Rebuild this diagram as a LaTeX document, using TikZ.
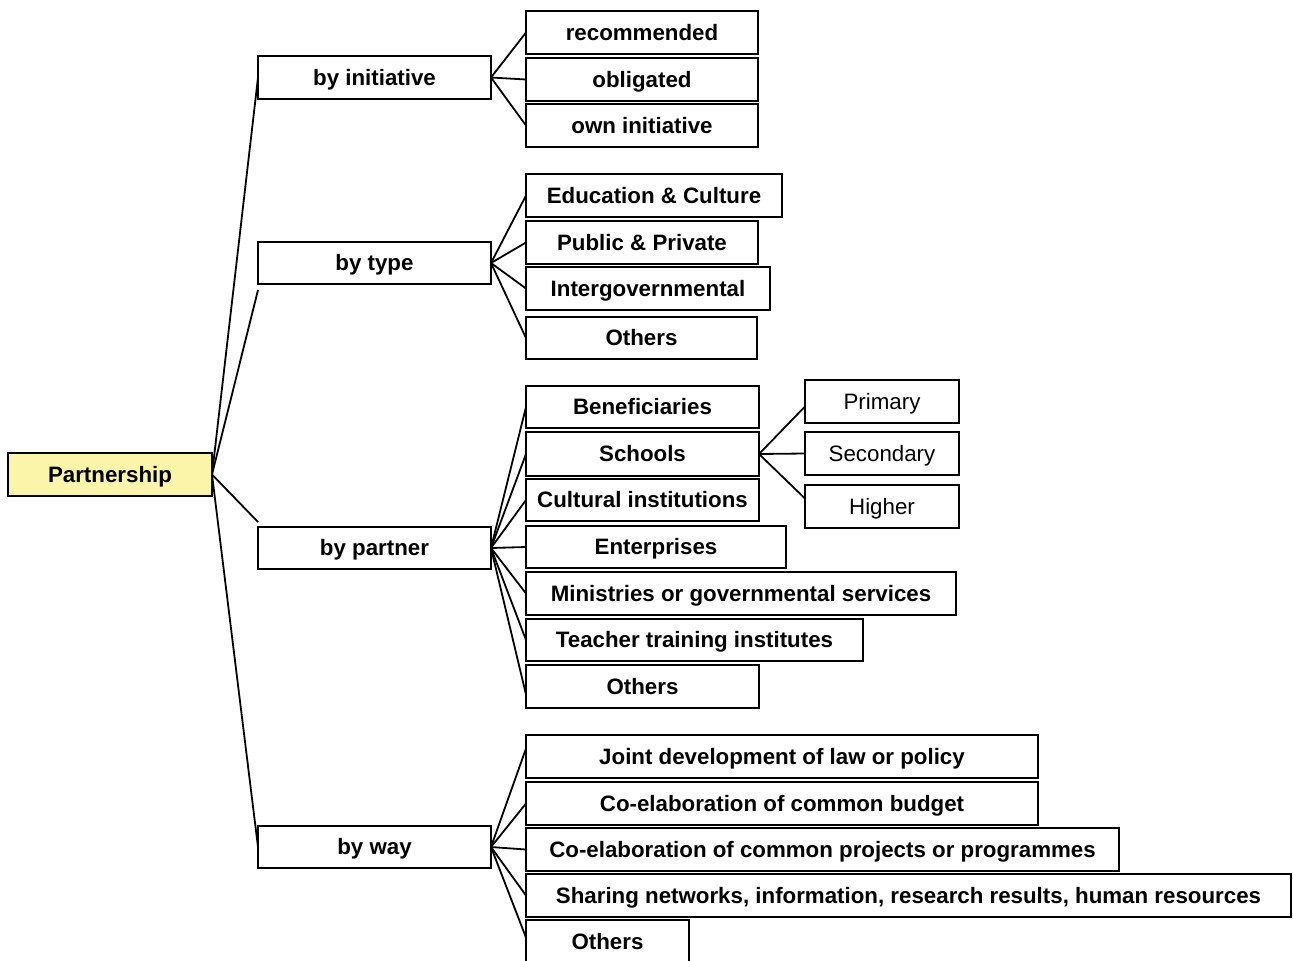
\documentclass[tikz,border=0pt]{standalone}
\usepackage{fontspec}
\setmainfont{Liberation Sans}
\usetikzlibrary{calc,shadows}
\definecolor{rootfill}{RGB}{250,245,168}
\begin{document}
\begin{tikzpicture}[x=1pt,y=-1pt,
  every node/.style={inner sep=0pt,outer sep=0pt},
  box/.style={draw=black,line width=1.9pt,fill=white,minimum height=43pt,
    text height=16.5pt,text depth=1.5pt,
    font=\fontsize{22.3}{26}\selectfont\bfseries,
    drop shadow={shadow xshift=1.4pt,shadow yshift=-1.4pt,fill=black!40,opacity=1}},
  leaf/.style={box,font=\fontsize{22.3}{26}\selectfont},
  root/.style={box,fill=rootfill},
  link/.style={draw=black,line width=1.8pt}]
\useasboundingbox (0,0) rectangle (1293,961);

% root and first level
\node[root,minimum width=204pt] (P) at (110,474.5) {Partnership};
\node[box,minimum width=233pt] (init) at (374.5,77.5) {by initiative};
\node[box,minimum width=233pt,minimum height=42pt] (type) at (374.5,263) {by type};
\node[box,minimum width=233pt,minimum height=42pt] (partner) at (374.5,548) {by partner};
\node[box,minimum width=233pt,minimum height=42pt] (way) at (374.5,847) {by way};

% by initiative
\node[box,minimum width=232pt] (rec) at (642,32.5) {recommended};
\node[box,minimum width=232pt] (obl) at (642,79.5) {obligated};
\node[box,minimum width=232pt] (own) at (642,125.5) {own initiative};

% by type
\node[box,minimum width=256pt] (edu) at (654,195.5) {Education \& Culture};
\node[box,minimum width=232pt] (pub) at (642,242.5) {Public \& Private};
\node[box,minimum width=244pt] (intg) at (648,288.5) {Intergovernmental};
\node[box,minimum width=231pt,minimum height=42pt] (othA) at (641.5,338) {Others};

% by partner
\node[box,minimum width=233pt,minimum height=42pt] (ben) at (642.5,407) {Beneficiaries};
\node[box,minimum width=233pt,minimum height=44pt] (sch) at (642.5,454) {Schools};
\node[box,minimum width=233pt,minimum height=42pt] (cult) at (642.5,500) {Cultural institutions};
\node[box,minimum width=260pt,minimum height=42pt] (ent) at (656,547) {Enterprises};
\node[box,minimum width=430pt] (mini) at (741,593.5) {Ministries or governmental services};
\node[box,minimum width=337pt,minimum height=42pt] (tea) at (694.5,640) {Teacher training institutes};
\node[box,minimum width=233pt] (othB) at (642.5,686.5) {Others};

% schools
\node[leaf,minimum width=154pt] (prim) at (882,401.5) {Primary};
\node[leaf,minimum width=154pt] (sec) at (882,453.5) {Secondary};
\node[leaf,minimum width=154pt] (high) at (882,506.5) {Higher};

% by way
\node[box,minimum width=512pt] (joint) at (782,756.5) {Joint development of law or policy};
\node[box,minimum width=512pt] (budg) at (782,803.5) {Co-elaboration of common budget};
\node[box,minimum width=593pt] (proj) at (822.5,849.5) {Co-elaboration of common projects or programmes};
\node[box,minimum width=765pt] (shar) at (908.5,895.5) {Sharing networks, information, research results, human resources};
\node[box,minimum width=163pt] (othC) at (607.5,941.5) {Others};

% connector ends from the root
\coordinate (tInit) at (init.west);
\coordinate (tType) at ($(type.south west)+(0,6)$);
\coordinate (tPartner) at ($(partner.north west)+(0,-5)$);
\coordinate (tWay) at (way.west);

\draw[link] (P.east) -- (tInit);
\draw[link] (P.east) -- (tType);
\draw[link] (P.east) -- (tPartner);
\draw[link] (P.east) -- (tWay);

\foreach \c in {rec,obl,own} \draw[link] (init.east) -- (\c.west);
\foreach \c in {edu,pub,intg,othA} \draw[link] (type.east) -- (\c.west);
\foreach \c in {ben,sch,cult,ent,mini,tea} \draw[link] (partner.east) -- (\c.west);
\draw[link] (partner.east) -- ($(othB.west)+(0,8)$);
\draw[link] (sch.east) -- ($(prim.west)+(0,5)$);
\draw[link] (sch.east) -- (sec.west);
\draw[link] (sch.east) -- ($(high.west)+(0,-8)$);
\draw[link] (way.east) -- ($(joint.west)+(0,-8)$);
\foreach \c in {budg,proj,shar} \draw[link] (way.east) -- (\c.west);
\draw[link] (way.east) -- ($(othC.west)+(0,-4)$);
\end{tikzpicture}
\end{document}
